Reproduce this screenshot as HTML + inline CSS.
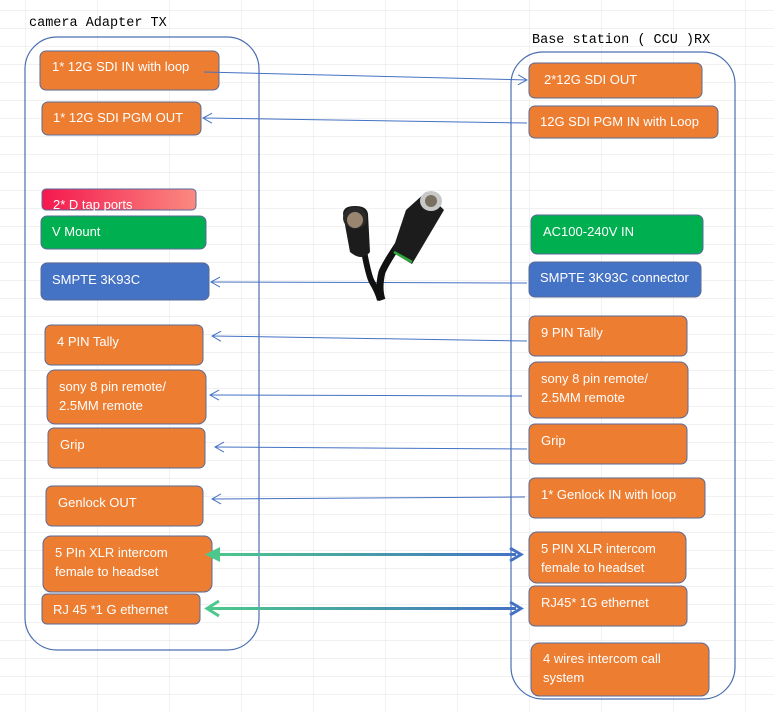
<!DOCTYPE html>
<html><head><meta charset="utf-8"><style>
html,body{margin:0;padding:0;background:#fff}
svg{display:block}
.t{font-family:"Liberation Sans",sans-serif;font-size:13px;fill:#fff;font-weight:500}
.h{font-family:"Liberation Mono","Noto Sans CJK SC",monospace;font-size:13.5px;fill:#000}
</style></head><body>
<svg width="774" height="712" viewBox="0 0 774 712" xmlns="http://www.w3.org/2000/svg">
<defs>
<pattern id="g" x="25" y="10" width="72" height="18" patternUnits="userSpaceOnUse">
<path d="M0 0V18M0 0H72" stroke="#e3e3e3" stroke-width="1" fill="none"/>
</pattern>
<linearGradient id="dt" x1="0" x2="1"><stop offset="0" stop-color="#f5184e"/><stop offset="1" stop-color="#fa8a80"/></linearGradient>
<linearGradient id="ar" x1="0" x2="1"><stop offset="0" stop-color="#4cc88c"/><stop offset="1" stop-color="#4472c4"/></linearGradient>
<marker id="o" markerWidth="12" markerHeight="12" refX="10" refY="6" orient="auto" markerUnits="userSpaceOnUse"><path d="M1 1L10 6L1 11" fill="none" stroke="#4472c4" stroke-width="1"/></marker>
</defs>
<rect width="774" height="712" fill="url(#g)"/>
<text class="h" x="29" y="26">camera Adapter TX</text>
<text class="h" x="532" y="43">Base station ( CCU )RX</text>
<rect x="25" y="37" width="234" height="613" rx="32" fill="none" stroke="#4a6fb0" stroke-width="1.2"/>
<rect x="511" y="52" width="224" height="647" rx="32" fill="none" stroke="#4a6fb0" stroke-width="1.2"/>
<g stroke="#5a6a99" stroke-width="1">
<rect x="40" y="51" width="179" height="39" rx="6" fill="#ed7d31"/>
<rect x="42" y="102" width="159" height="33" rx="6" fill="#ed7d31"/>
<rect x="42" y="189" width="154" height="21" rx="4" fill="url(#dt)"/>
<rect x="41" y="216" width="165" height="33" rx="6" fill="#00b050"/>
<rect x="41" y="263" width="168" height="37" rx="6" fill="#4472c4"/>
<rect x="45" y="325" width="158" height="40" rx="6" fill="#ed7d31"/>
<rect x="47" y="370" width="159" height="54" rx="8" fill="#ed7d31"/>
<rect x="48" y="428" width="157" height="40" rx="6" fill="#ed7d31"/>
<rect x="46" y="486" width="157" height="40" rx="6" fill="#ed7d31"/>
<rect x="43" y="536" width="169" height="56" rx="8" fill="#ed7d31"/>
<rect x="42" y="594" width="158" height="30" rx="5" fill="#ed7d31"/>
<rect x="529" y="63" width="173" height="35" rx="6" fill="#ed7d31"/>
<rect x="529" y="106" width="189" height="32" rx="6" fill="#ed7d31"/>
<rect x="531" y="215" width="172" height="39" rx="6" fill="#00b050"/>
<rect x="529" y="262" width="172" height="35" rx="6" fill="#4472c4"/>
<rect x="529" y="316" width="158" height="40" rx="6" fill="#ed7d31"/>
<rect x="529" y="362" width="159" height="56" rx="8" fill="#ed7d31"/>
<rect x="529" y="424" width="158" height="40" rx="6" fill="#ed7d31"/>
<rect x="529" y="478" width="176" height="40" rx="6" fill="#ed7d31"/>
<rect x="529" y="532" width="157" height="51" rx="8" fill="#ed7d31"/>
<rect x="529" y="586" width="158" height="40" rx="6" fill="#ed7d31"/>
<rect x="531" y="643" width="178" height="53" rx="8" fill="#ed7d31"/>
</g>
<g class="t">
<text x="52" y="71">1*  12G SDI IN  with loop</text>
<text x="53" y="122">1* 12G SDI  PGM OUT</text>
<text x="53" y="209">2* D tap ports</text>
<text x="52" y="236">V Mount</text>
<text x="52" y="284">SMPTE 3K93C</text>
<text x="57" y="346">4 PIN Tally</text>
<text x="59" y="391">sony 8 pin remote/</text>
<text x="59" y="410">2.5MM remote</text>
<text x="60" y="449">Grip</text>
<text x="58" y="507">Genlock OUT</text>
<text x="55" y="557">5 PIn XLR intercom</text>
<text x="55" y="576">female to headset</text>
<text x="53" y="614">RJ 45 *1 G ethernet</text>
<text x="544" y="84">2*12G SDI OUT</text>
<text x="540" y="126">12G SDI PGM  IN with Loop</text>
<text x="543" y="236">AC100-240V IN</text>
<text x="540" y="282">SMPTE 3K93C connector</text>
<text x="541" y="337">9 PIN Tally</text>
<text x="541" y="383">sony 8 pin remote/</text>
<text x="541" y="402">2.5MM remote</text>
<text x="541" y="445">Grip</text>
<text x="541" y="499">1* Genlock IN with loop</text>
<text x="541" y="553">5 PIN XLR intercom</text>
<text x="541" y="572">female to headset</text>
<text x="541" y="607">RJ45* 1G ethernet</text>
<text x="543" y="663">4 wires intercom call</text>
<text x="543" y="682">system</text>
</g>
<g stroke="#4472c4" stroke-width="1" fill="none" marker-end="url(#o)">
<path d="M204 72L527 80"/>
<path d="M527 123L203 118"/>
<path d="M527 283L211 282"/>
<path d="M527 341L212 336"/>
<path d="M522 396L210 395"/>
<path d="M527 449L215 447"/>
<path d="M525 497L212 499"/>
</g>
<g>
<rect x="210" y="553" width="306" height="3" fill="url(#ar)"/>
<path d="M220 547L205 554.5L220 562Z" fill="#4cc88c"/>
<path d="M510 548L521 554.5L510 561" fill="none" stroke="#4472c4" stroke-width="3"/>
<rect x="210" y="607" width="306" height="3" fill="url(#ar)"/>
<path d="M219 601L207 608.5L219 616" fill="none" stroke="#4cc88c" stroke-width="3"/>
<path d="M510 602L521 608.5L510 615" fill="none" stroke="#4472c4" stroke-width="3"/>
</g>
<g>
<path d="M362 240Q368 275 372 282Q378 292 380 300" stroke="#111" stroke-width="6" fill="none"/>
<path d="M412 225Q388 258 382 272Q378 288 382 300" stroke="#111" stroke-width="7" fill="none"/>
<path d="M343 214Q343 206 355 206Q367 206 368 214L370 252Q362 262 350 252Z" fill="#1c1c1c"/>
<ellipse cx="355" cy="218" rx="12" ry="11" fill="#2a2a2a"/>
<ellipse cx="355" cy="220" rx="8" ry="8" fill="#9a8670"/>
<path d="M406 210L426 192L444 210L412 264L392 252Z" fill="#1c1c1c"/>
<path d="M394 252L412 262" stroke="#2daa3a" stroke-width="2.5"/>
<ellipse cx="431" cy="201" rx="11" ry="10" fill="#c8c8c8"/>
<ellipse cx="431" cy="201" rx="6" ry="6" fill="#7a7060"/>
</g>
</svg>
</body></html>
